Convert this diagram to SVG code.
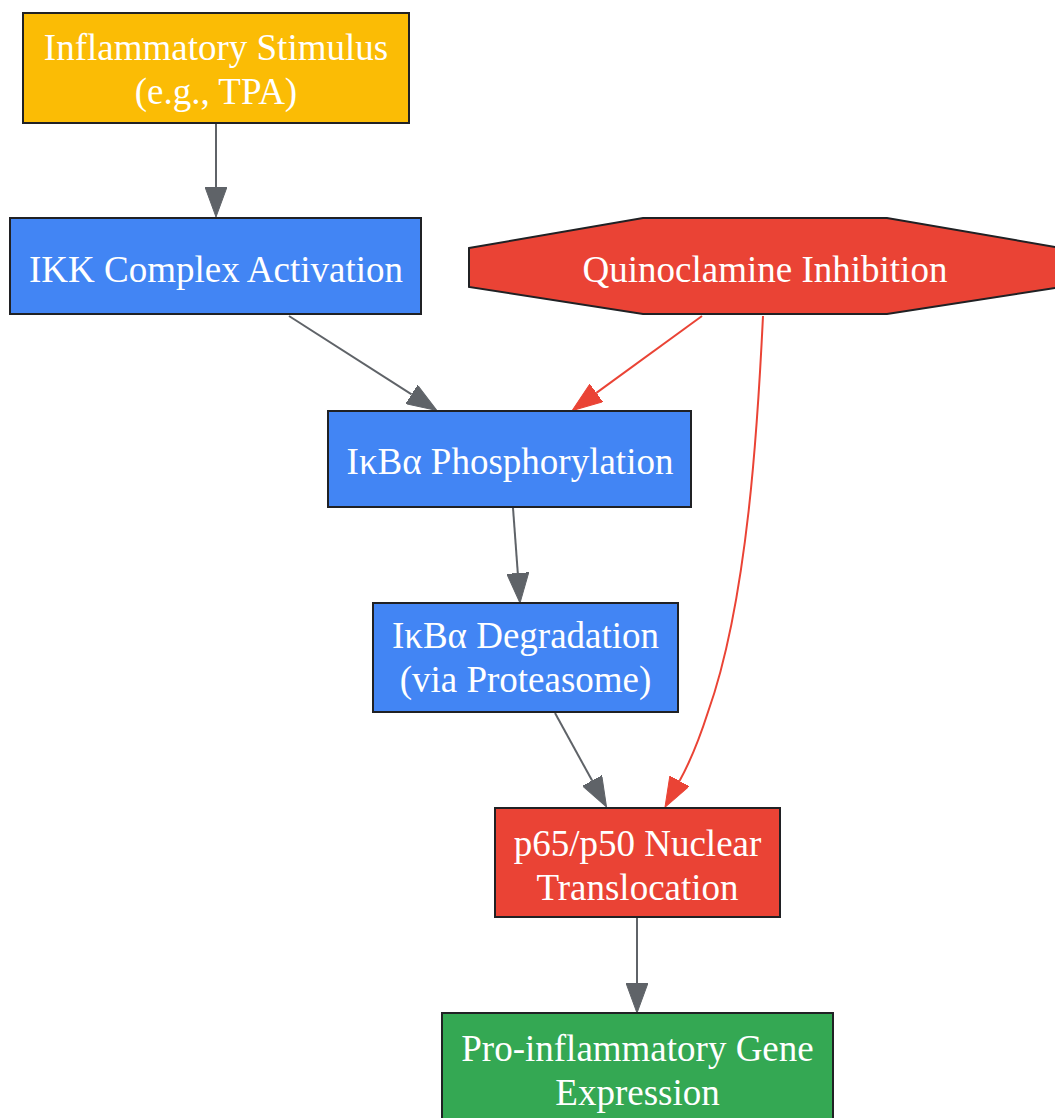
<svg xmlns="http://www.w3.org/2000/svg" width="1055" height="1118" viewBox="0 0 1055 1118">
<style>
  .node { stroke: #202124; stroke-width: 2; }
  .lbl { font-family: "Liberation Serif", "Times New Roman", serif; font-size: 37px; fill: #ffffff; text-anchor: middle; }
  .e { fill: none; stroke-width: 2; }
  .g { stroke: #5F6368; }
  .r { stroke: #EA4335; }
</style>
<defs>
  <marker id="ag" markerUnits="userSpaceOnUse" markerWidth="30" markerHeight="22" refX="0" refY="11" orient="auto" viewBox="0 0 30 22">
    <path d="M0,0 L30,11 L0,22 z" fill="#5F6368" stroke="#5F6368" stroke-width="1"/>
  </marker>
  <marker id="ar" markerUnits="userSpaceOnUse" markerWidth="30" markerHeight="22" refX="0" refY="11" orient="auto" viewBox="0 0 30 22">
    <path d="M0,0 L30,11 L0,22 z" fill="#EA4335" stroke="#EA4335" stroke-width="1"/>
  </marker>
</defs>
<rect width="1055" height="1118" fill="#ffffff"/>
<g id="connectors">
  <path class="e g" d="M216,123 L216,187" marker-end="url(#ag)"/>
  <path class="e g" d="M289,316 L411.6,394.4" marker-end="url(#ag)"/>
  <path class="e r" d="M702,316 L596.4,392.9" marker-end="url(#ar)"/>
  <path class="e r" d="M763,316 C758,420 748,600 708,712 C699,740 690,762 679.5,781" marker-end="url(#ar)"/>
  <path class="e g" d="M513,508 L517.8,573.1" marker-end="url(#ag)"/>
  <path class="e g" d="M555,713 L592.1,780.6" marker-end="url(#ag)"/>
  <path class="e g" d="M637,918 L637,983" marker-end="url(#ag)"/>
</g>
<g id="stimulus">
  <rect class="node" x="23" y="13" width="386" height="110" fill="#FBBC05"/>
  <text class="lbl" x="216" y="60">Inflammatory Stimulus</text>
  <text class="lbl" x="216" y="104">(e.g., TPA)</text>
</g>
<g id="ikk">
  <rect class="node" x="10" y="218" width="411" height="96" fill="#4285F4"/>
  <text class="lbl" x="216" y="282">IKK Complex Activation</text>
</g>
<g id="quinoclamine">
  <polygon class="node" points="469,248 643,218 887,218 1061,248 1061,287 887,314 643,314 469,287" fill="#EA4335"/>
  <text class="lbl" x="765" y="282">Quinoclamine Inhibition</text>
</g>
<g id="phosphorylation">
  <rect class="node" x="328" y="411" width="363" height="96" fill="#4285F4"/>
  <text class="lbl" x="510" y="474">IκBα Phosphorylation</text>
</g>
<g id="degradation">
  <rect class="node" x="373" y="603" width="305" height="109" fill="#4285F4"/>
  <text class="lbl" x="525.5" y="648">IκBα Degradation</text>
  <text class="lbl" x="525.5" y="692">(via Proteasome)</text>
</g>
<g id="translocation">
  <rect class="node" x="495" y="808" width="285" height="109" fill="#EA4335"/>
  <text class="lbl" x="637.5" y="856">p65/p50 Nuclear</text>
  <text class="lbl" x="637.5" y="900">Translocation</text>
</g>
<g id="expression">
  <rect class="node" x="442" y="1013" width="391" height="120" fill="#34A853"/>
  <text class="lbl" x="637.5" y="1061">Pro-inflammatory Gene</text>
  <text class="lbl" x="637.5" y="1105">Expression</text>
</g>
</svg>
